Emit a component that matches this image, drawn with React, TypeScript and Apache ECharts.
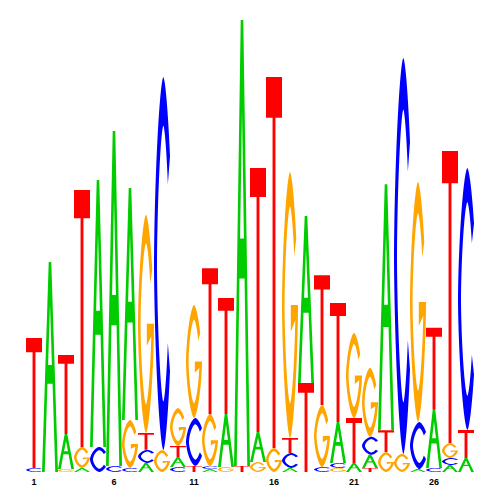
import React, { useEffect, useRef } from "react";
import * as echarts from "echarts";

// Sequence logo: 28 positions, letter heights in bits
const positions = [
  "1", "2", "3", "4", "5", "6", "7", "8", "9", "10", "11", "12", "13", "14",
  "15", "16", "17", "18", "19", "20", "21", "22", "23", "24", "25", "26", "27", "28",
];
const tickLabels = ["1", "6", "11", "16", "21", "26"];
const letters = ["A", "C", "G", "T"];
const letterColors = ["#00CC00", "#0000FF", "#FFA500", "#FF0000"];

const bitsA = [
  0, 0.929, 0.155, 0.018, 1.181, 1.482, 1.027, 0.04, 0, 0.044, 0, 0.013, 0.235, 1.973,
  0.133, 0, 0.018, 0.739, 0, 0.181, 0.04, 0.058, 1.088, 0, 0.013, 0.257, 0.031, 0.062,
];
const bitsC = [
  0.018, 0, 0, 0, 0.111, 0.027, 0.018, 0.058, 1.65, 0.022, 0.212, 0.013, 0, 0,
  0, 0, 0.066, 0, 0.022, 0.022, 0, 0.08, 0, 1.752, 0.208, 0.018, 0.031, 1.159,
];
const bitsG = [
  0, 0, 0.013, 0.093, 0, 0, 0.212, 0.965, 0.097, 0.168, 0.5, 0.23, 0.022, 0,
  0.044, 0.106, 1.177, 0, 0.274, 0.018, 0.376, 0.305, 0.088, 0.08, 1.062, 0, 0.066, 0,
];
const bitsT = [
  0.575, 0, 0.35, 1.137, 0, 0, 0, 0.075, 0, 0.049, 0.027, 0.646, 0.513, 0.027,
  1.168, 1.642, 0.066, 0.394, 0.575, 0.527, 0.199, 0.018, 0.097, 0, 0, 0.363, 1.292, 0.124,
];

// ---- glyph outlines in a 100x100 box (y down) ----
const SUPER = 1.6;
function arcPts(rx: number, ry: number, a0: number, a1: number, n: number): string[] {
  const out: string[] = [];
  const e = 2 / SUPER;
  for (let k = 0; k <= n; k++) {
    const a = ((a0 + ((a1 - a0) * k) / n) * Math.PI) / 180;
    const c = Math.cos(a);
    const s = Math.sin(a);
    const x = 50 + rx * Math.sign(c) * Math.pow(Math.abs(c), e);
    const y = 50 - ry * Math.sign(s) * Math.pow(Math.abs(s), e);
    out.push(x.toFixed(2) + "," + y.toFixed(2));
  }
  return out;
}
const glyphA =
  "M0,100 L42,0 L58,0 L100,100 L83,100 L66,58 L34,58 L17,100 Z M38,49 L62,49 L50,20 Z";
const glyphT = "M0,0 L100,0 L100,11 L59,11 L59,100 L41,100 L41,11 L0,11 Z";
function buildC(): string {
  const outer = arcPts(50, 50, 40, 320, 80);
  const inner = arcPts(34, 37, 320, 40, 80);
  return "M" + outer.join(" L") + " L" + inner.join(" L") + " Z";
}
function buildG(): string {
  const outer = arcPts(50, 50, 35, 360, 80);
  const inner = arcPts(34, 37, 347, 35, 80);
  return "M" + outer.join(" L") + " L55,50 L55,60 L" + inner.join(" L") + " Z";
}
const glyphs = [glyphA, buildC(), buildG(), glyphT];

export default function App() {
  const ref = useRef<HTMLDivElement>(null);
  useEffect(() => {
    if (!ref.current) return;
    const chart = echarts.init(ref.current, null, { renderer: "svg" });
    const table = [bitsA, bitsC, bitsG, bitsT];
    const data: number[][] = [];
    positions.forEach((_, i) => {
      const order = [0, 1, 2, 3]
        .filter((l) => table[l][i] > 0)
        .sort((a, b) => table[a][i] - table[b][i]);
      let base = 0;
      order.forEach((l) => {
        const h = table[l][i];
        data.push([i, base, base + h, l]);
        base += h;
      });
    });
    chart.setOption({
      animation: false,
      grid: { left: 26, right: 26, top: 20, bottom: 28 },
      xAxis: {
        type: "category",
        data: positions,
        axisLine: { show: false },
        axisTick: { show: false },
        splitLine: { show: false },
        axisLabel: {
          interval: (index: number) => tickLabels.includes(positions[index]),
          fontSize: 9,
          fontWeight: "bold",
          color: "#000",
          fontFamily: "Liberation Sans, Arial, sans-serif",
          margin: 5,
        },
      },
      yAxis: {
        type: "value",
        min: 0,
        max: 2,
        show: false,
      },
      series: [
        {
          type: "custom",
          data,
          encode: { x: 0, y: [1, 2] },
          renderItem: (params: any, api: any) => {
            const i = api.value(0);
            const y0 = api.value(1);
            const y1 = api.value(2);
            const li = api.value(3);
            const pTop = api.coord([i, y1]);
            const pBot = api.coord([i, y0]);
            const w = api.size([1, 0])[0];
            const h = pBot[1] - pTop[1];
            if (h <= 0.2) return null;
            return {
              type: "path",
              shape: {
                pathData: glyphs[li],
                x: pTop[0] - w / 2,
                y: pTop[1],
                width: w,
                height: h,
                layout: "cover",
              },
              style: { fill: letterColors[li] },
            };
          },
        },
      ],
    });
    return () => chart.dispose();
  }, []);
  return (
    <div
      ref={ref}
      style={{ position: "absolute", left: 0, top: 0, width: 500, height: 500 }}
    />
  );
}
